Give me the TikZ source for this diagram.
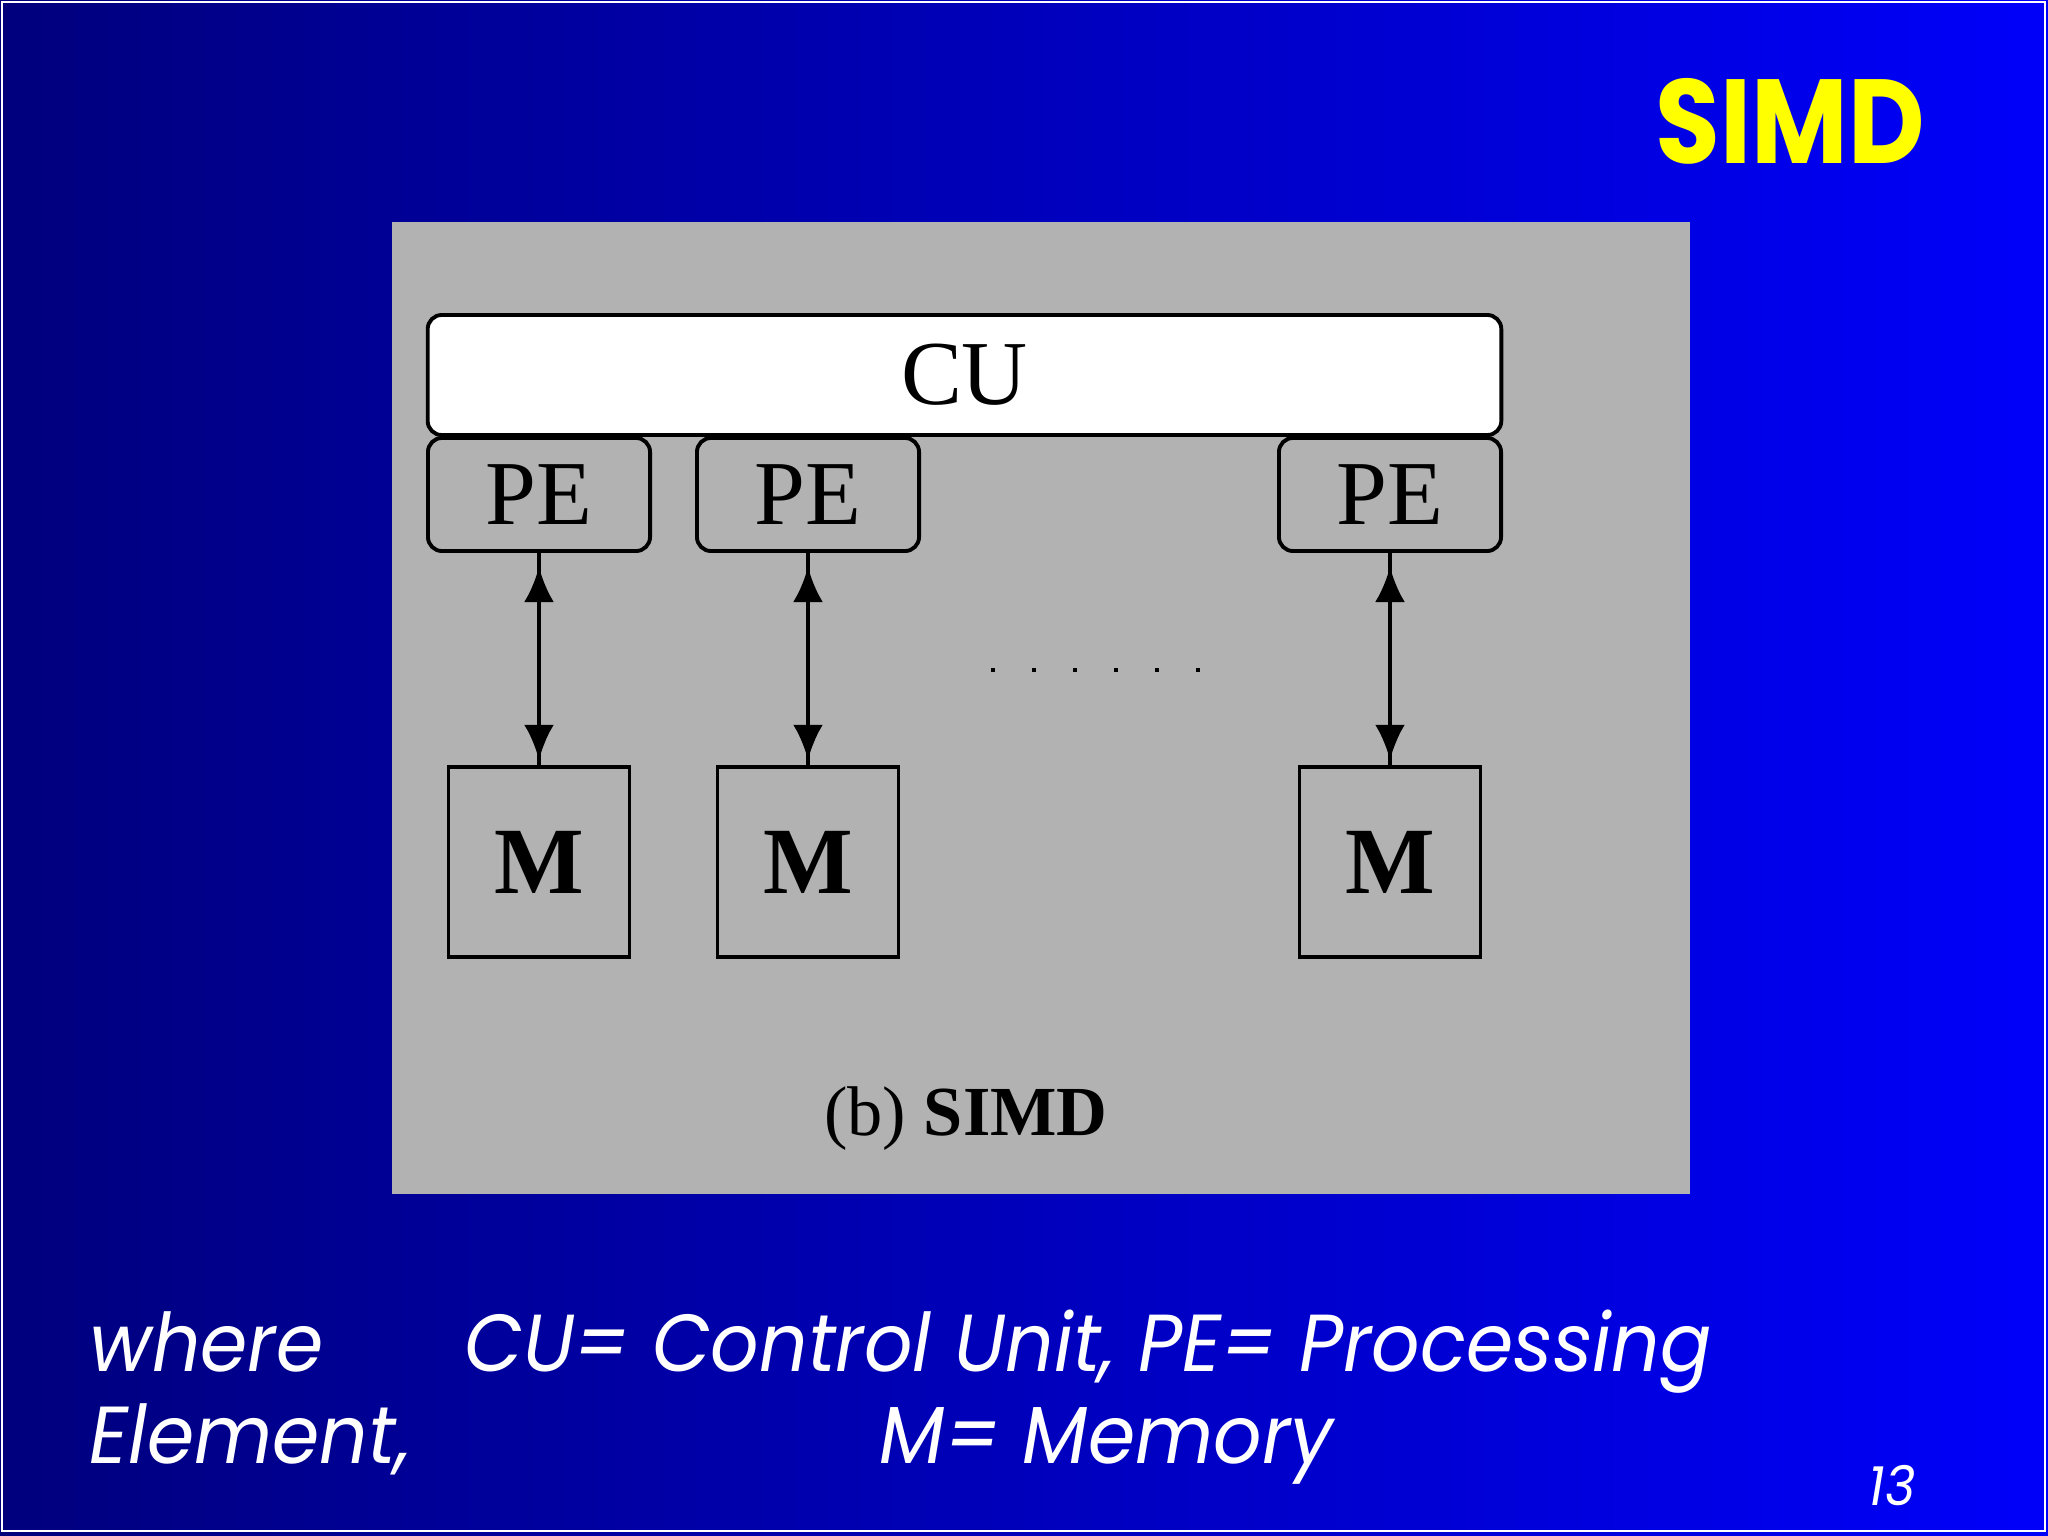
\documentclass[tikz,border=0pt]{standalone}
\usepackage{fontspec}
\setmainfont{Liberation Serif}
\newfontfamily\slidefont[FakeStretch=0.94]{Poppins}
\newfontfamily\titlefont[FakeStretch=0.88]{Poppins}
\usetikzlibrary{arrows.meta}
\definecolor{panelgray}{RGB}{178,178,178}
\definecolor{navyL}{RGB}{0,0,125}
\definecolor{blueR}{RGB}{0,0,250}
\definecolor{titleyellow}{RGB}{255,255,0}
\tikzset{
  box/.style={draw=black, line width=1.1pt, inner sep=0pt, outer sep=0pt},
  cubox/.style={box, fill=white, rounded corners=4pt, minimum width=10.73cm, minimum height=1.2cm, font=\fontsize{26}{28}\selectfont},
  pebox/.style={box, fill=panelgray, rounded corners=4pt, minimum width=2.22cm, minimum height=1.13cm, font=\fontsize{26}{28}\selectfont},
  membox/.style={draw=black, line width=0.9pt, inner sep=0pt, outer sep=0pt, minimum width=1.81cm, minimum height=1.9cm, font=\fontsize{27}{29}\selectfont\bfseries},
  link/.style={line width=1.1pt},
  linkarrow/.style={line width=1.1pt, {Latex[length=10pt,width=8.5pt]}-{Latex[length=10pt,width=8.5pt]}, shorten <=4.5pt, shorten >=2pt},
  slidetext/.style={text=white, inner sep=0pt, font=\slidefont\itshape\fontsize{23}{27}\selectfont},
}
\begin{document}
\begin{tikzpicture}[x=0.01cm, y=-0.01cm]
\useasboundingbox (0,0) rectangle (2048,1536);
\shade[left color=navyL, right color=blueR] (0,0) rectangle (2048,1536);
\draw[white, line width=0.6pt] (2,2) rectangle (2045,1531);
% title
\node[anchor=base west, inner sep=0pt, text=titleyellow, font=\titlefont\bfseries\fontsize{34}{36}\selectfont] (title) at (1655,163) {SIMD};
% gray panel
\fill[panelgray] (392,222) rectangle (1690,1194);
% CU
\node[cubox] (cu) at (964.5,375) {CU};
% PEs
\node[pebox] (pe1) at (539,494.5) {PE};
\node[pebox] (pe2) at (808,494.5) {PE};
\node[pebox] (pe3) at (1390,494.5) {PE};
% Memories
\node[membox] (m1) at (539,862) {M};
\node[membox] (m2) at (808,862) {M};
\node[membox] (m3) at (1390,862) {M};
% connectors
\foreach \i in {1,2,3}{
  \draw[link] (pe\i.south) -- (m\i.north);
  \draw[linkarrow] (pe\i.south) -- (m\i.north);
}
% dots
\foreach \k in {0,...,5}{
  \fill[black] (993+41*\k-2,668) rectangle (993+41*\k+2,672);
}
% caption
\node[inner sep=0pt, font=\fontsize{20}{22}\selectfont] (cap) at (966,1119) {(b) \textbf{SIMD}};
% bottom text
\node[slidetext, anchor=base west] (w1) at (89,1371) {where};
\node[slidetext, anchor=base west] (w2) at (464,1371) {CU= Control Unit, PE= Processing};
\node[slidetext, anchor=base west] (w3) at (89,1463) {Element,};
\node[slidetext, anchor=base west] (w4) at (879,1463) {M= Memory};
\node[anchor=base west, inner sep=0pt, text=white, font=\slidefont\itshape\fontsize{15.5}{17}\selectfont] (pg) at (1868,1505) {13};
\end{tikzpicture}
\end{document}
